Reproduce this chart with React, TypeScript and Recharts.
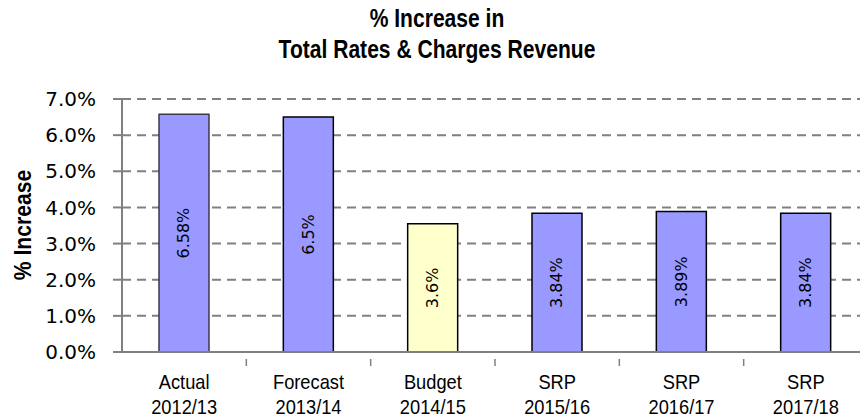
import React from 'react';
import { BarChart, Bar, XAxis, YAxis, CartesianGrid, Cell, LabelList } from 'recharts';

const categories = ['Actual\n2012/13', 'Forecast\n2013/14', 'Budget\n2014/15', 'SRP\n2015/16', 'SRP\n2016/17', 'SRP\n2017/18'];
const increases = [6.58, 6.5, 3.55, 3.84, 3.89, 3.84];
const valueLabels = ['6.58%', '6.5%', '3.6%', '3.84%', '3.89%', '3.84%'];
const barFills = ['#9999FF', '#9999FF', '#FFFFCC', '#9999FF', '#9999FF', '#9999FF'];
const barStrokes = ['#3a3a4a', '#000000', '#000000', '#000000', '#000000', '#000000'];
const yTicks = [0, 1, 2, 3, 4, 5, 6, 7];

const data = categories.map((c, i) => ({ category: c, value: increases[i], label: valueLabels[i] }));

const SANS = '"Liberation Sans", Arial, sans-serif';
const TICKFONT = '"DejaVu Sans", sans-serif';

const XTick = (props: any) => {
  const { x, y, payload } = props;
  const lines = String(payload.value).split('\n');
  const off = payload.offset || 0;
  return (
    <g>
      <line x1={x + off} x2={x + off} y1={y - 1} y2={y + 6} stroke="#808080" strokeWidth={1.5} />
      {lines.map((l: string, i: number) => (
        <text
          key={i}
          x={0}
          y={y + 29 + i * 25}
          transform={`translate(${x},0) scale(0.87,1)`}
          textAnchor="middle"
          fontFamily={SANS}
          fontSize={21}
          fill="#000"
        >
          {l}
        </text>
      ))}
    </g>
  );
};

const BarLabel = (props: any) => {
  const { x, y, width, height, index } = props;
  const cx = x + width / 2;
  const cy = y + height / 2;
  return (
    <text
      x={cx}
      y={cy}
      transform={`rotate(-90, ${cx}, ${cy})`}
      textAnchor="middle"
      dominantBaseline="central"
      fontFamily={TICKFONT}
      fontSize={16}
      fill="#000"
    >
      {valueLabels[index]}
    </text>
  );
};

export default function App() {
  return (
    <div style={{ position: 'absolute', left: 0, top: 0, width: 860, height: 418, overflow: 'hidden', background: '#fff' }}>
      <div
        style={{
          position: 'absolute',
          left: 0,
          top: 3,
          width: 874,
          textAlign: 'center',
          fontFamily: SANS,
          fontWeight: 'bold',
          fontSize: 26,
          lineHeight: '31px',
          color: '#000',
          transform: 'scaleX(0.81)',
          transformOrigin: '437px 0',
        }}
      >
        % Increase in
        <br />
        Total Rates &amp; Charges Revenue
      </div>
      <div
        style={{
          position: 'absolute',
          left: 23,
          top: 225,
          transform: 'translate(-50%, -50%) rotate(-90deg) scaleX(0.88)',
          fontFamily: SANS,
          fontWeight: 'bold',
          fontSize: 24,
          whiteSpace: 'nowrap',
          color: '#000',
        }}
      >
        % Increase
      </div>
      <div style={{ position: 'absolute', left: 0, top: 0 }}>
        <BarChart width={880} height={418} data={data} margin={{ top: 99, right: 12, bottom: 0, left: 0 }} barCategoryGap={37}>
          <CartesianGrid vertical={false} stroke="#808080" strokeWidth={2} strokeDasharray="9 6" />
          <XAxis
            dataKey="category"
            axisLine={{ stroke: '#808080', strokeWidth: 2 }}
            tickLine={false}
            tick={<XTick />}
            interval={0}
            height={66}
          />
          <YAxis
            domain={[0, 7]}
            ticks={yTicks}
            interval={0}
            width={122}
            axisLine={{ stroke: '#808080', strokeWidth: 2 }}
            tickLine={{ stroke: '#808080', strokeWidth: 2 }}
            tickSize={9}
            tickMargin={17}
            tickFormatter={(v: number) => v.toFixed(1) + '%'}
            tick={{ fontFamily: TICKFONT, fontSize: 20, fill: '#000' }}
          />
          <Bar dataKey="value" isAnimationActive={false} strokeWidth={1.5}>
            {data.map((d, i) => (
              <Cell key={i} fill={barFills[i]} stroke={barStrokes[i]} />
            ))}
            <LabelList dataKey="label" content={<BarLabel />} />
          </Bar>
        </BarChart>
      </div>
    </div>
  );
}
